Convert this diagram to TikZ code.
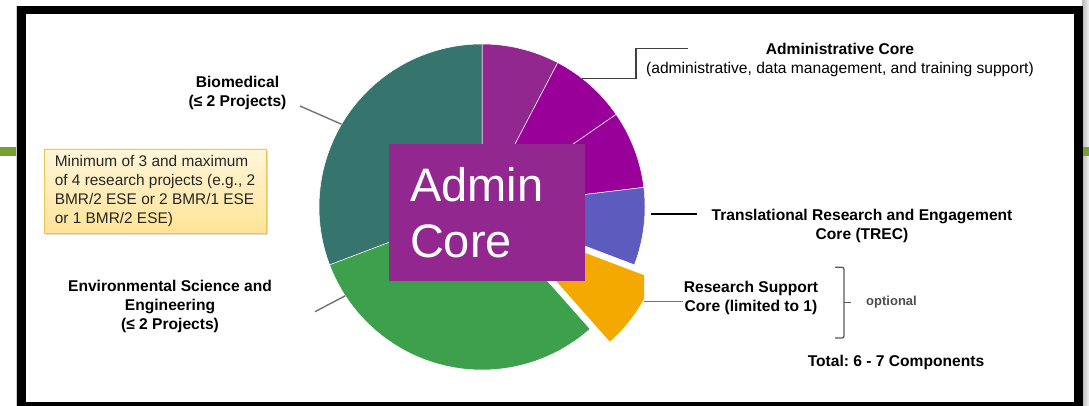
\documentclass[tikz,border=0pt]{standalone}
\usepackage{fontspec}
\setmainfont{Liberation Sans}
\usetikzlibrary{positioning, calc, shadows}
\frenchspacing

\definecolor{admcol}{RGB}{146,39,143}
\definecolor{magcol}{RGB}{153,0,153}
\definecolor{treccol}{RGB}{94,91,191}
\definecolor{rsccol}{RGB}{244,169,0}
\definecolor{esecol}{RGB}{61,160,77}
\definecolor{bmcol}{RGB}{54,116,110}
\definecolor{barcol}{RGB}{119,160,48}
\definecolor{notetop}{RGB}{255,246,218}
\definecolor{notebot}{RGB}{255,228,150}
\definecolor{noteline}{RGB}{240,196,90}

\tikzset{lbl/.style={align=center, font=\bfseries\fontsize{15.6}{19}\selectfont, inner sep=0pt}}
\tikzset{lead/.style={draw=black!55, line width=1.4pt}}
\tikzset{slice/.style={draw=white, line width=.5pt}}
\tikzset{adminbox/.style={fill=admcol, text=white, minimum width=196pt, minimum height=137pt,
    text width=154pt, inner xsep=21pt, align=left, font=\fontsize{47}{56.3}\selectfont}}
\tikzset{note/.style={draw=noteline, line width=.9pt, top color=notetop, bottom color=notebot,
    minimum width=222pt, inner ysep=0pt, minimum height=84pt, align=left,
    text=black!85, font=\fontsize{15.4}{19.2}\selectfont,
    drop shadow={shadow xshift=1.5pt, shadow yshift=-2pt, opacity=.3}}}

\begin{document}
\begin{tikzpicture}[x=1pt, y=1pt]
  \useasboundingbox (0,0) rectangle (1089,406);

  % slide frame
  \fill[left color=gray!55, right color=gray!10] (1082,0) rectangle (1089,406);
  \fill[barcol] (0,250) rectangle (17,259);
  \fill[barcol] (1082,250) rectangle (1089,259);
  \draw[gray!40, line width=.8pt] (16.5,0) -- (16.5,400);
  \draw[line width=8.5pt] (21.3,0) -- (21.3,396) -- (1078.3,396) -- (1078.3,0) -- cycle;

  % pie
  \coordinate (pie) at (482,199);
  \foreach \a/\b/\col in {90/62.31/admcol, 62.31/34.62/magcol, 34.62/6.92/magcol,
      6.92/-20.77/treccol, -48.46/-159.23/esecol, -159.23/-270/bmcol}
    \filldraw[slice, fill=\col] (pie) -- ($(pie)+(\a:163)$)
      arc[start angle=\a, end angle=\b, radius=163] -- cycle;

  \coordinate (rsc-c) at ($(pie)+(-34.6:24)$);
  \begin{scope}
    \clip (0,0) rectangle (644,406);
    \filldraw[slice, fill=rsccol, line width=1pt] (rsc-c) -- +(-20.77:163)
      arc[start angle=-20.77, end angle=-48.46, radius=163] -- cycle;
  \end{scope}

  \node[adminbox] (admin) at (487,193.5) {Admin\\Core};

  % labels
  \node[lbl] (bm) at (237.5,313.5) {Biomedical\\(≤ 2 Projects)};
  \node[lbl] (ese) at (170,99.7) {Environmental Science and\\Engineering\\(≤ 2 Projects)};
  \node[lbl] (adm) at (840,346.5) {Administrative Core\\{\mdseries (administrative, data management, and training support)}};
  \node[lbl] (trec) at (862,180.5) {Translational Research and Engagement\\Core (TREC)};
  \node[lbl] (rsc) at (751,108.5) {Research Support\\Core (limited to 1)};
  \node[lbl, font=\bfseries\fontsize{13}{15}\selectfont, text=black!70] (opt) at (891.5,103.5) {optional};
  \node[lbl] (total) at (896,44) {Total: 6 - 7 Components};

  \node[note] (rule) at (155,215) {Minimum of 3 and maximum\\of 4 research projects (e.g., 2\\BMR/2 ESE or 2 BMR/1 ESE\\or 1 BMR/2 ESE)};

  % leader lines
  \coordinate (bm-tip) at ($(pie)+(149.5:163)$);
  \coordinate (bm-a) at (300,300);
  \draw[lead] (bm-a) -- (bm-tip);

  \coordinate (ese-tip) at ($(pie)+(213:163)$);
  \coordinate (ese-a) at (315,94.3);
  \draw[lead] (ese-a) -- (ese-tip);

  \coordinate (adm-tip) at ($(pie)+(52:163)$);
  \coordinate (adm-a) at (688,357.7);
  \draw[lead, draw=black!75] (adm-tip) -| (636,357.7) -- (adm-a);

  \coordinate (trec-a) at (651,192);
  \coordinate (trec-b) at (697,192);
  \draw[line width=1.2pt] (trec-a) -- (trec-b);

  \coordinate (rsc-a) at (644,104.3);
  \coordinate (rsc-b) at (683,104.3);
  \draw[lead] (rsc-a) -- (rsc-b);

  % brace for the optional core
  \coordinate (br-top) at (835,138.7);
  \coordinate (br-bot) at (835,68);
  \coordinate (br-mid) at (844,103.3);
  \draw[draw=black!65, line width=1.3pt, rounded corners=2pt] (br-top) -- ++(9,0) -- ++(0,-70.7) -- (br-bot);
  \draw[draw=black!65, line width=1.3pt] (br-mid) -- ++(7,0);
\end{tikzpicture}
\end{document}
